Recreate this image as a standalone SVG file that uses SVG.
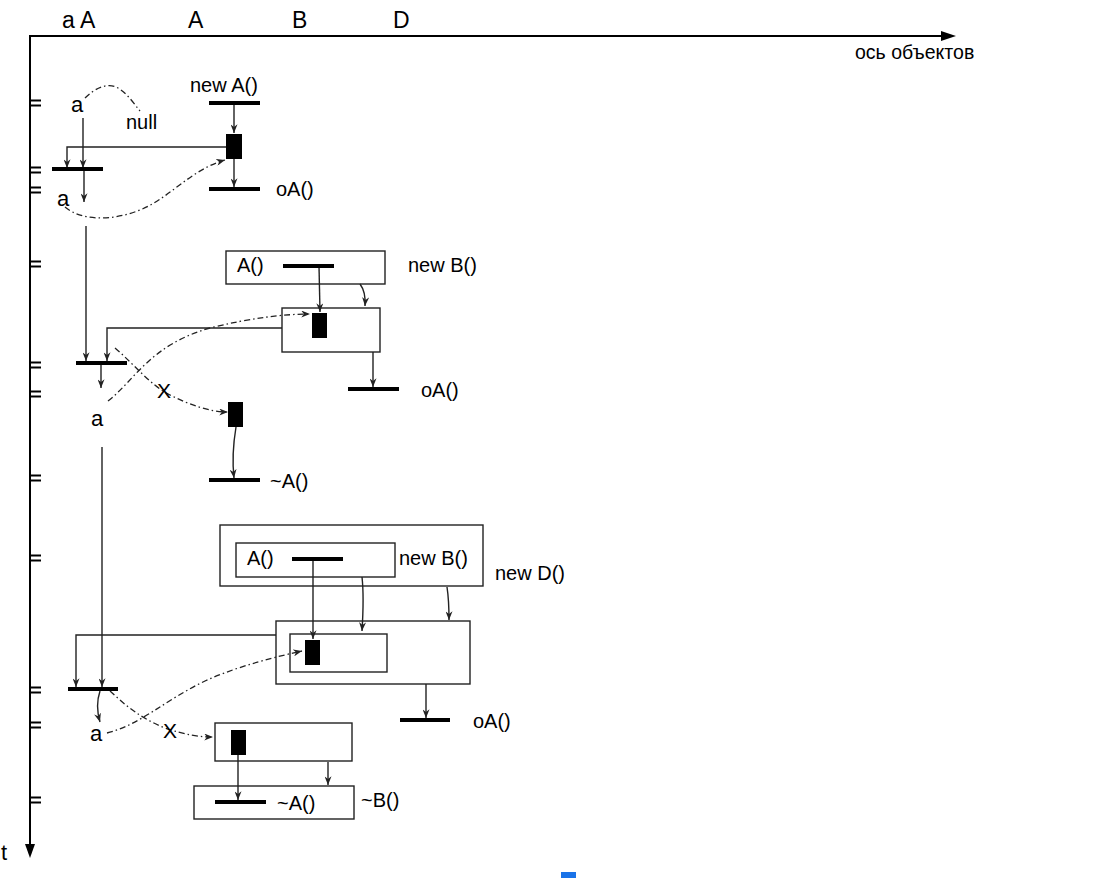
<svg xmlns="http://www.w3.org/2000/svg" width="1100" height="878" viewBox="0 0 1100 878">
<style>
text{font-family:"Liberation Sans",Arial,sans-serif;font-size:20px;fill:#000}
.big{font-size:23px}
.v{font-size:22px}
.ax{stroke:#000;stroke-width:2;fill:none}
.tk{stroke:#000;stroke-width:2}
.ln{stroke:#222;stroke-width:1.4;fill:none}
.dd{stroke:#222;stroke-width:1.3;fill:none;stroke-dasharray:6 3 1.5 3}
.bar{stroke:#000;stroke-width:4}
.box{fill:#fff;stroke:#222;stroke-width:1.4}
.blk{fill:#000}
.a{marker-end:url(#arr)}
</style>
<defs>
<marker id="arr" viewBox="0 0 10 8" refX="10" refY="4" markerWidth="9" markerHeight="7" orient="auto" markerUnits="userSpaceOnUse">
<path d="M0,0 L10,4 L0,8 L3,4 Z" fill="#222"/>
</marker>
</defs>
<rect width="1100" height="878" fill="#fff"/>
<g id="axes">
<line class="ax" x1="30" y1="35" x2="30" y2="846"/>
<polygon points="25,844 35,844 30,858" fill="#000"/>
<line class="ax" x1="29" y1="36" x2="942" y2="36"/>
<polygon points="941,31 941,41 956,36" fill="#000"/>
<text x="855" y="59" style="font-size:19.5px">ось объектов</text>
<text x="1" y="860" class="v">t</text>
<text x="62" y="28" class="big">a A</text>
<text x="188" y="28" class="big">A</text>
<text x="292" y="28" class="big">B</text>
<text x="393" y="28" class="big">D</text>
</g>
<g id="ticks">
<line class="tk" x1="30" y1="100.5" x2="41" y2="100.5"/><line class="tk" x1="30" y1="105.5" x2="41" y2="105.5"/>
<line class="tk" x1="30" y1="167.5" x2="41" y2="167.5"/><line class="tk" x1="30" y1="172.5" x2="41" y2="172.5"/>
<line class="tk" x1="30" y1="187.5" x2="41" y2="187.5"/><line class="tk" x1="30" y1="192.5" x2="41" y2="192.5"/>
<line class="tk" x1="30" y1="261.5" x2="41" y2="261.5"/><line class="tk" x1="30" y1="266.5" x2="41" y2="266.5"/>
<line class="tk" x1="30" y1="362.5" x2="41" y2="362.5"/><line class="tk" x1="30" y1="367.5" x2="41" y2="367.5"/>
<line class="tk" x1="30" y1="391.5" x2="41" y2="391.5"/><line class="tk" x1="30" y1="396.5" x2="41" y2="396.5"/>
<line class="tk" x1="30" y1="475.5" x2="41" y2="475.5"/><line class="tk" x1="30" y1="480.5" x2="41" y2="480.5"/>
<line class="tk" x1="30" y1="555.5" x2="41" y2="555.5"/><line class="tk" x1="30" y1="560.5" x2="41" y2="560.5"/>
<line class="tk" x1="30" y1="687.5" x2="41" y2="687.5"/><line class="tk" x1="30" y1="692.5" x2="41" y2="692.5"/>
<line class="tk" x1="30" y1="722.5" x2="41" y2="722.5"/><line class="tk" x1="30" y1="727.5" x2="41" y2="727.5"/>
<line class="tk" x1="30" y1="797.5" x2="41" y2="797.5"/><line class="tk" x1="30" y1="802.5" x2="41" y2="802.5"/>
</g>
<g id="boxes">
<rect class="box" x="226" y="251" width="159" height="33"/>
<rect class="box" x="282" y="308" width="98" height="44"/>
<rect class="box" x="220" y="525" width="263" height="61"/>
<rect class="box" x="236" y="543" width="159" height="34"/>
<rect class="box" x="276" y="621" width="194" height="63"/>
<rect class="box" x="290" y="634" width="97" height="38"/>
<rect class="box" x="215" y="723" width="137" height="38"/>
<rect class="box" x="194" y="786" width="160" height="33"/>
</g>
<g id="connectors">
<line class="ln a" x1="83" y1="118" x2="83" y2="168"/>
<path class="dd" d="M85,98 C95,88 108,82 118,88 S134,104 140,111"/>
<line class="ln a" x1="84" y1="171" x2="84" y2="202"/>
<polyline class="ln a" points="226,147 67,147 67,168"/>
<line class="ln a" x1="234" y1="105" x2="234" y2="133"/>
<line class="ln a" x1="234" y1="159" x2="234" y2="187"/>
<path class="dd a" d="M65,207 C80,220 110,222 140,210 C170,198 190,170 225,160"/>
<line class="ln a" x1="86" y1="226" x2="86" y2="361"/>
<line class="ln a" x1="319" y1="266" x2="320" y2="312"/>
<path class="ln a" d="M360,284 Q366,292 365,306"/>
<polyline class="ln a" points="282,328 107,328 107,361"/>
<line class="ln a" x1="373" y1="352" x2="373" y2="387"/>
<line class="ln a" x1="101" y1="365" x2="101" y2="388"/>
<path class="dd a" d="M108,401 C135,380 150,345 210,328 C250,318 285,314 310,314"/>
<path class="dd a" d="M115,348 C135,365 150,385 170,395 C190,405 210,412 228,412"/>
<path class="ln a" d="M236,427 C233,445 232,460 234,478"/>
<line class="ln a" x1="102" y1="447" x2="102" y2="687"/>
<line class="ln a" x1="313" y1="559" x2="313" y2="639"/>
<path class="ln a" d="M362,577 C364,595 363,615 362,631"/>
<path class="ln a" d="M447,587 C449,600 449,610 449,620"/>
<polyline class="ln a" points="276,635 76,635 76,687"/>
<line class="ln a" x1="426" y1="684" x2="426" y2="718"/>
<path class="ln a" d="M100,691 C97,700 97,712 100,722"/>
<path class="dd a" d="M107,733 C140,725 165,700 205,681 C240,665 280,656 302,651"/>
<path class="dd a" d="M110,691 C125,705 140,718 165,728 C185,735 200,737 213,737"/>
<line class="ln a" x1="238" y1="755" x2="238" y2="800"/>
<line class="ln a" x1="328" y1="762" x2="328" y2="785"/>
</g>
<g id="var-a1"><text x="71" y="112" class="v">a</text><text x="126" y="129">null</text></g>
<g id="bar-a1"><line class="bar" x1="52" y1="169" x2="103" y2="169"/></g>
<g id="var-a2"><text x="57" y="206" class="v">a</text></g>
<g id="newA"><text x="190" y="92">new A()</text><line class="bar" x1="209" y1="103" x2="260" y2="103"/></g>
<g id="objA1"><rect class="blk" x="226" y="134" width="16" height="25"/></g>
<g id="oA1"><line class="bar" x1="209" y1="189" x2="260" y2="189"/><text x="276" y="196">oA()</text></g>
<g id="newB1"><text x="237" y="272">A()</text><line class="bar" x1="283" y1="266" x2="334" y2="266"/><text x="408" y="272">new B()</text></g>
<g id="objB1"><rect class="blk" x="312" y="313" width="15" height="25"/></g>
<g id="oA2"><line class="bar" x1="348" y1="389" x2="399" y2="389"/><text x="421" y="397">oA()</text></g>
<g id="bar-a3"><line class="bar" x1="76" y1="363" x2="127" y2="363"/></g>
<g id="var-a3"><text x="91" y="426" class="v">a</text><text x="157" y="398" style="font-size:21px">X</text></g>
<g id="objA2"><rect class="blk" x="228" y="402" width="15" height="25"/></g>
<g id="dtorA1"><line class="bar" x1="209" y1="480" x2="260" y2="480"/><text x="270" y="488">~A()</text></g>
<g id="newD"><text x="247" y="565">A()</text><line class="bar" x1="292" y1="559" x2="343" y2="559"/><text x="399" y="565">new B()</text><text x="495" y="580">new D()</text></g>
<g id="objD"><rect class="blk" x="305" y="640" width="15" height="25"/></g>
<g id="oA3"><line class="bar" x1="400" y1="720" x2="450" y2="720"/><text x="473" y="728">oA()</text></g>
<g id="bar-a4"><line class="bar" x1="68" y1="689" x2="118" y2="689"/></g>
<g id="var-a4"><text x="90" y="741" class="v">a</text><text x="163" y="738" style="font-size:21px">X</text></g>
<g id="objB2"><rect class="blk" x="231" y="730" width="15" height="25"/></g>
<g id="dtorB"><line class="bar" x1="215" y1="802" x2="266" y2="802"/><text x="277" y="810">~A()</text><text x="361" y="807">~B()</text></g>
<rect x="561" y="872" width="15" height="6" fill="#1a73e8"/>
</svg>
